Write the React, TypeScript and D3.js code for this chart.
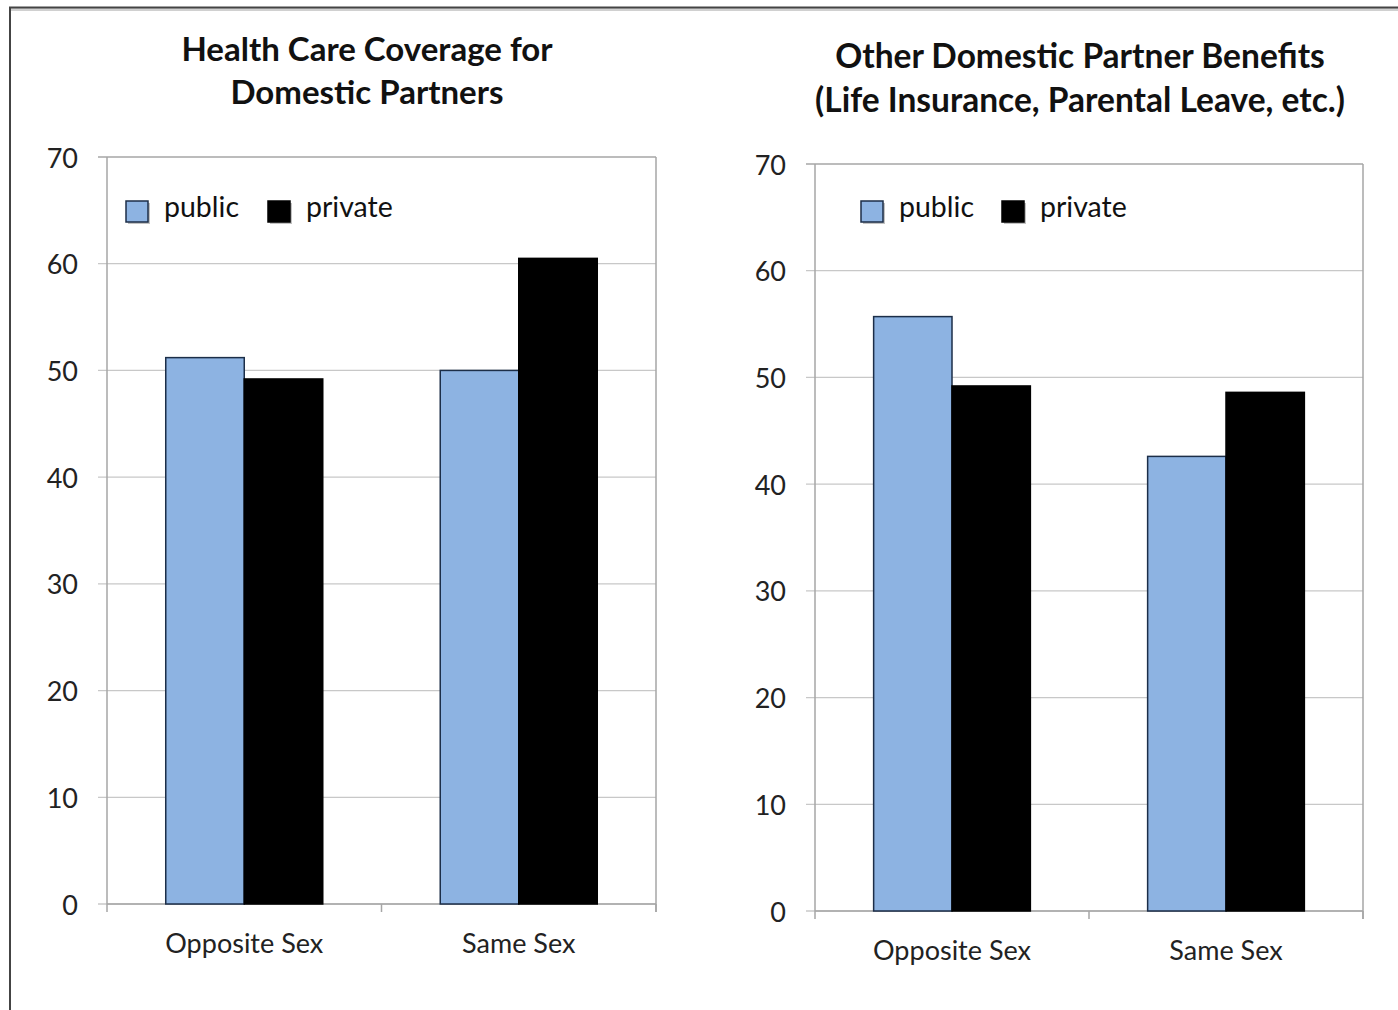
import React from "react";
import * as d3 from "d3";

const categories = ["Opposite Sex", "Same Sex"];
const seriesNames = ["public", "private"];
const healthPublic = [51.2, 50.0];
const healthPrivate = [49.2, 60.5];
const otherPublic = [55.7, 42.6];
const otherPrivate = [49.2, 48.6];
const yTicks = [0, 10, 20, 30, 40, 50, 60, 70];
const titleHealth = ["Health Care Coverage for", "Domestic Partners"];
const titleOther = ["Other Domestic Partner Benefits", "(Life Insurance, Parental Leave, etc.)"];

const FONT = "Lato, 'Open Sans', sans-serif";
const BLUE = "#8db3e2";

type PanelProps = {
  x0: number; x1: number; yTop: number; yBottom: number;
  title: string[]; titleX: number; titleY: number[]; titleSize: number;
  pub: number[]; priv: number[];
  legendX: number[]; legendY: number; catY: number;
};

function Panel(p: PanelProps) {
  const y = d3.scaleLinear().domain([0, 70]).range([p.yBottom, p.yTop]);
  const x = d3.scaleBand<string>().domain(categories).range([p.x0, p.x1]).padding(0);
  const bw = x.bandwidth();
  const barW = bw * 0.286;
  const series = [p.pub, p.priv];
  return (
    <g>
      {p.title.map((t, i) => (
        <text key={i} x={p.titleX} y={p.titleY[i]} textAnchor="middle" dominantBaseline="central"
          fontFamily={FONT} fontWeight={700} fontSize={p.titleSize} fill="#111">{t}</text>
      ))}
      {yTicks.map((v) => (
        <g key={v}>
          <line x1={p.x0 - 9} x2={p.x1} y1={y(v)} y2={y(v)} stroke={v === 70 ? "#a6a6a6" : "#c8c8c8"} strokeWidth={v === 0 ? 1.5 : 1.3} />
          <text x={p.x0 - 29} y={y(v)} textAnchor="end" dominantBaseline="central"
            fontFamily={FONT} fontSize={27} fill="#222">{v}</text>
        </g>
      ))}
      <line x1={p.x0} x2={p.x0} y1={p.yTop} y2={p.yBottom} stroke="#a6a6a6" strokeWidth={1.5} />
      <line x1={p.x1} x2={p.x1} y1={p.yTop} y2={p.yBottom + 8} stroke="#a6a6a6" strokeWidth={1.5} />
      <line x1={p.x0} x2={p.x1} y1={p.yBottom} y2={p.yBottom} stroke="#a6a6a6" strokeWidth={1.5} />
      {[p.x0, (p.x0 + p.x1) / 2, p.x1].map((tx, i) => (
        <line key={i} x1={tx} x2={tx} y1={p.yBottom} y2={p.yBottom + 8} stroke="#a6a6a6" strokeWidth={1.5} />
      ))}
      {categories.map((c, ci) => {
        const cx = (x(c) as number) + bw / 2;
        return (
          <g key={c}>
            {series.map((s, si) => {
              const bx = cx - barW + si * barW;
              return (
                <rect key={si} x={bx} y={y(s[ci])} width={barW} height={y(0) - y(s[ci])}
                  fill={si === 0 ? BLUE : "#000"} stroke={si === 0 ? "#1c2e48" : "#000"} strokeWidth={1.5} />
              );
            })}
            <text x={cx} y={p.catY} textAnchor="middle" dominantBaseline="central"
              fontFamily={FONT} fontSize={27} fill="#222">{c}</text>
          </g>
        );
      })}
      {seriesNames.map((n, i) => (
        <g key={n}>
          <rect x={p.legendX[i] + 2} y={p.legendY - 9} width={22} height={21} fill="#9a9a9a" opacity={0.6} />
          <rect x={p.legendX[i]} y={p.legendY - 11} width={22} height={21}
            fill={i === 0 ? BLUE : "#000"} stroke={i === 0 ? "#1c2e48" : "#000"} strokeWidth={1.5} />
          <text x={p.legendX[i] + 38} y={p.legendY - 6} dominantBaseline="central"
            fontFamily={FONT} fontSize={28.5} fill="#111">{n}</text>
        </g>
      ))}
    </g>
  );
}

export default function App() {
  return (
    <svg width={1398} height={1010} style={{ position: "fixed", left: 0, top: 0, background: "#fff" }}>
      <rect x={0} y={0} width={1398} height={1010} fill="#fff" />
      <line x1={10} x2={1398} y1={9.5} y2={9.5} stroke="#d0d0d0" strokeWidth={3} />
      <line x1={9} x2={1398} y1={7.5} y2={7.5} stroke="#444" strokeWidth={2} />
      <line x1={10} x2={10} y1={7} y2={1010} stroke="#444" strokeWidth={2} />
      <Panel x0={107} x1={656} yTop={157} yBottom={904}
        title={titleHealth} titleX={367} titleY={[48, 91]} titleSize={33}
        pub={healthPublic} priv={healthPrivate}
        legendX={[126, 268]} legendY={212} catY={942} />
      <Panel x0={815} x1={1363} yTop={164} yBottom={911}
        title={titleOther} titleX={1080} titleY={[55, 99]} titleSize={33.5}
        pub={otherPublic} priv={otherPrivate}
        legendX={[861, 1002]} legendY={212} catY={949} />
    </svg>
  );
}
